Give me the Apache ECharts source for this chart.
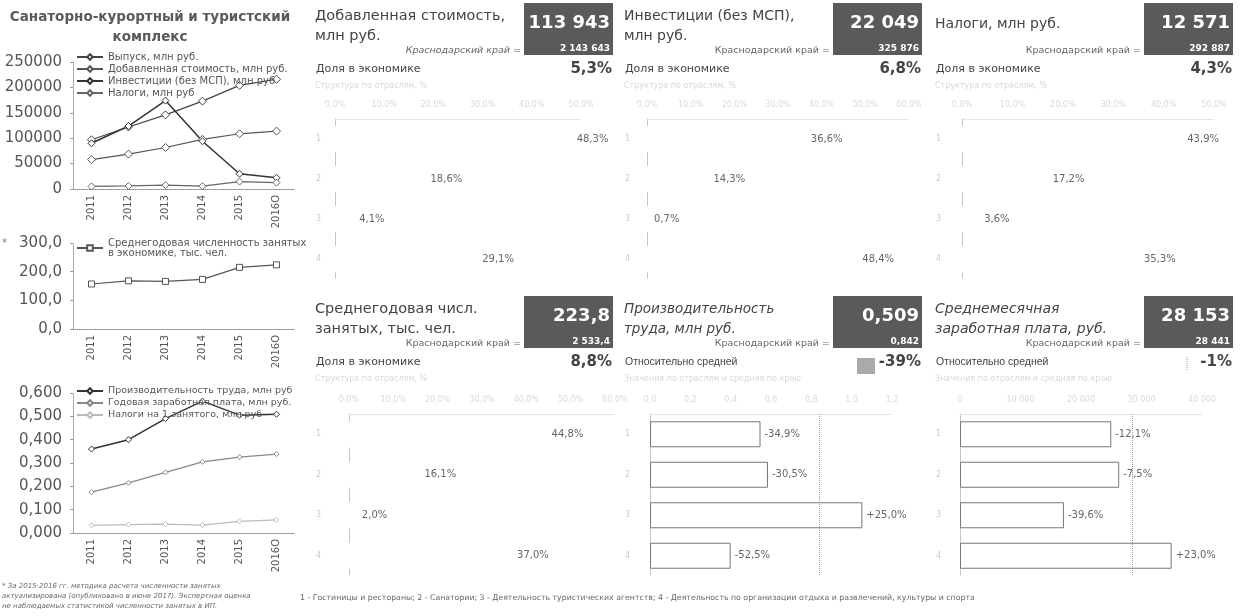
<!DOCTYPE html>
<html><head><meta charset="utf-8">
<script src="https://cdn.jsdelivr.net/npm/echarts@6/dist/echarts.min.js"></script>
<style>html,body{margin:0;padding:0;background:#fff}#c{width:1245px;height:616px}</style>
</head><body><div id="c"></div>
<script>
// ---------- data ----------
const years = ['2011','2012','2013','2014','2015','2016О'];
const outputVals = [97000, 122000, 146000, 173000, 204000, 216000];
const valueAdded = [57800, 68800, 81700, 97700, 108700, 113943];
const investment = [90000, 124000, 174000, 94000, 30000, 22049];
const taxes = [5000, 6000, 7500, 5500, 14500, 12571];
const employed = [157, 168, 166, 173, 215, 223.8];
const productivity = [0.36, 0.40, 0.49, 0.565, 0.505, 0.509];
const wageYear = [0.175, 0.215, 0.26, 0.305, 0.325, 0.338];
const taxPerEmp = [0.033, 0.036, 0.038, 0.034, 0.05, 0.056];

const industries = ['1','2','3','4'];
const vaShare = [48.3, 18.6, 4.1, 29.1];
const invShare = [36.6, 14.3, 0.7, 48.4];
const taxShare = [43.9, 17.2, 3.6, 35.3];
const empShare = [44.8, 16.1, 2.0, 37.0];
const prodValues = [0.548, 0.585, 1.053, 0.400];
const prodLabels = ['-34,9%', '-30,5%', '+25,0%', '-52,5%'];
const prodAvg = 0.842;
const wageValues = [25000, 26308, 17178, 34982];
const wageLabels = ['-12,1%', '-7,5%', '-39,6%', '+23,0%'];
const wageAvg = 28441;

const cardTitles = [['Добавленная стоимость,','млн руб.'], ['Инвестиции (без МСП),','млн руб.'], ['Налоги, млн руб.'],
  ['Среднегодовая числ.','занятых, тыс. чел.'], ['Производительность','труда, млн руб.'], ['Среднемесячная','заработная плата, руб.']];
const cardBig = ['113 943', '22 049', '12 571', '223,8', '0,509', '28 153'];
const cardSmall = ['2 143 643', '325 876', '292 887', '2 533,4', '0,842', '28 441'];
const cardSub = ['Доля в экономике', 'Доля в экономике', 'Доля в экономике', 'Доля в экономике', 'Относительно средней', 'Относительно средней'];
const cardPct = ['5,3%', '6,8%', '4,3%', '8,8%', '-39%', '-1%'];
const faintSubs = ['Структура по отраслям, %','Структура по отраслям, %','Структура по отраслям, %',
  'Структура по отраслям, %','Значения по отраслям и средняя по краю','Значения по отраслям и средняя по краю'];
const regionLabel = 'Краснодарский край =';
const footnote = ['* За 2015-2016 гг. методика расчета численности занятых',
  'актуализирована (опубликовано в июне 2017). Экспертная оценка',
  'не наблюдаемых статистикой численности занятых в ИП.'];
const industryNote = '1 - Гостиницы и рестораны; 2 - Санатории; 3 - Деятельность туристических агентств; 4 - Деятельность по организации отдыха и развлечений, культуры и спорта';

// ---------- layout ----------
const cardLayout = [
  {x0:313, y0:0, tsize:14.5, italic:false, regItalic:true},
  {x0:622, y0:0, tsize:14, italic:false, regItalic:false},
  {x0:933, y0:0, tsize:14, italic:false, regItalic:false},
  {x0:313, y0:293, tsize:14.5, italic:false, regItalic:false},
  {x0:622, y0:293, tsize:13.5, italic:true, regItalic:false},
  {x0:933, y0:293, tsize:14, italic:true, regItalic:false}
];
const F = 'DejaVu Sans';
const grey = '#555';
const fmtComma = (v, d) => v.toFixed(d).replace('.', ',');

const grids = [
  {left:73, top:62, width:222, height:127},
  {left:73, top:243, width:222, height:86},
  {left:73, top:393, width:222, height:140}
];
const xAxes = [], yAxes = [], series = [];
const lineYFmt = [v => String(v), v => fmtComma(v,1), v => fmtComma(v,3)];
const lineMax = [250000, 300, 0.6], lineInt = [50000, 100, 0.1];
for (let i = 0; i < 3; i++) {
  xAxes.push({type:'category', gridIndex:i, data:years, boundaryGap:true,
    axisLine:{lineStyle:{color:'#888', type:'dotted'}}, axisTick:{show:false},
    axisLabel:{rotate:90, fontFamily:F, fontSize:10, color:grey, margin:6}});
  yAxes.push({type:'value', gridIndex:i, min:0, max:lineMax[i], interval:lineInt[i],
    axisLine:{show:true, lineStyle:{color:'#999', type:'dotted'}}, axisTick:{show:true, length:3, lineStyle:{color:'#999'}},
    splitLine:{show:false},
    axisLabel:{fontFamily:F, fontSize:15, color:grey, margin:11, formatter:lineYFmt[i]}});
}
function lineSeries(name, data, gi, color, width, sym, symSize) {
  return {type:'line', name, data, xAxisIndex:gi, yAxisIndex:gi, symbol:sym, symbolSize:symSize,
    lineStyle:{color, width}, itemStyle:{color:'#fff', borderColor:color, borderWidth:1}, z:3, animation:false};
}
series.push(lineSeries('Выпуск, млн руб.', outputVals, 0, '#444', 1.2, 'diamond', 8));
series.push(lineSeries('Добавленная стоимость, млн руб.', valueAdded, 0, '#555', 1.2, 'diamond', 8));
series.push(lineSeries('Инвестиции (без МСП), млн руб', investment, 0, '#333', 1.5, 'diamond', 7));
series.push(lineSeries('Налоги, млн руб', taxes, 0, '#666', 1.2, 'diamond', 7));
series.push(lineSeries('Среднегодовая численность занятых\nв экономике, тыс. чел.', employed, 1, '#555', 1.2, 'rect', 6));
series.push(lineSeries('Производительность труда, млн руб', productivity, 2, '#333', 1.5, 'diamond', 6));
series.push(lineSeries('Годовая заработная плата, млн руб.', wageYear, 2, '#888', 1.2, 'diamond', 5));
series.push(lineSeries('Налоги на 1 занятого, млн руб', taxPerEmp, 2, '#bbb', 1.2, 'diamond', 5));

const legendBase = {orient:'vertical', itemGap:2, itemWidth:26, itemHeight:7, padding:0,
  textStyle:{fontFamily:F, fontSize:10, color:grey, lineHeight:10}, selectedMode:false};
const legends = [
  Object.assign({}, legendBase, {left:76, top:52, data:['Выпуск, млн руб.','Добавленная стоимость, млн руб.','Инвестиции (без МСП), млн руб','Налоги, млн руб']}),
  Object.assign({}, legendBase, {left:76, top:238, data:['Среднегодовая численность занятых\nв экономике, тыс. чел.']}),
  Object.assign({}, legendBase, {left:76, top:386, textStyle:{fontFamily:F, fontSize:9.5, color:grey, lineHeight:10},
    data:['Производительность труда, млн руб','Годовая заработная плата, млн руб.','Налоги на 1 занятого, млн руб']})
];

// bar panels
const barPanels = [
  {vals:vaShare, max:50, interval:10, kind:'share', dx:22, w:246},
  {vals:invShare, max:60, interval:10, kind:'share', dx:25, w:262},
  {vals:taxShare, max:50, interval:10, kind:'share', dx:29, w:252},
  {vals:empShare, max:60, interval:10, kind:'share', dx:36, w:266},
  {vals:prodValues, labels:prodLabels, avg:prodAvg, max:1.2, interval:0.2, kind:'rel', dec:1, dx:28, w:242},
  {vals:wageValues, labels:wageLabels, avg:wageAvg, max:40000, interval:10000, kind:'rel', dec:0, dx:27, w:242}
];
barPanels.forEach((p, k) => {
  const c = cardLayout[k];
  const top = c.y0 === 0 ? 119 : 414;
  const gi = grids.length;
  grids.push({left:c.x0 + p.dx, top, width:p.w, height:c.y0 === 0 ? 160 : 162});
  xAxes.push({type:'value', gridIndex:gi, position:'top', min:0, max:p.max, interval:p.interval,
    axisLine:{show:true, lineStyle:{color:'#ddd', type:'dotted'}}, axisTick:{show:false}, splitLine:{show:false},
    axisLabel:{fontFamily:F, fontSize:8, color:'#dadada', margin:10,
      formatter: v => p.kind === 'share' ? fmtComma(v,1) + '%' : (p.dec ? fmtComma(v,1) : String(v).replace(/\B(?=(\d{3})+(?!\d))/g,' '))}});
  yAxes.push({type:'category', gridIndex:gi, data:industries, inverse:true,
    axisLine:{show:true, lineStyle:{color:'#bbb', type:'dotted'}}, axisTick:{show:false},
    axisLabel:{fontFamily:F, fontSize:8, color:'#ccc', margin:p.dx - 8}});
  const s = {type:'bar', xAxisIndex:gi, yAxisIndex:gi, data:p.vals, barWidth:26, animation:false,
    label:{show:true, position:'right', distance:4, fontFamily:F, fontSize:10, color:'#666',
      formatter: p.kind === 'share' ? (d => fmtComma(d.value,1) + '%') : (d => p.labels[d.dataIndex])}};
  if (p.kind === 'share') {
    s.itemStyle = {color:'#fff'};
  } else {
    s.itemStyle = {color:'#fff', borderColor:'#777', borderWidth:1};
    s.markLine = {symbol:'none', silent:true, label:{show:false},
      lineStyle:{color:'#999', type:'dotted', width:1}, data:[{xAxis:p.avg}]};
  }
  series.push(s);
});

// graphics
const g = [];
function txt(x, y, text, font, fill, align, vAlign) {
  g.push({type:'text', x, y, silent:true, style:{text, font, fill:fill || grey, textAlign:align || 'left', textVerticalAlign:vAlign || 'middle'}});
}
txt(150, 17, 'Санаторно-курортный и туристский', 'bold 13.5px "DejaVu Sans"', '#5a5a5a', 'center');
txt(150, 37, 'комплекс', 'bold 13.5px "DejaVu Sans"', '#5a5a5a', 'center');
txt(2, 243, '*', '10px "DejaVu Sans"', '#777');
footnote.forEach((t, i) => txt(2, 586 + i * 10, t, 'italic 7px "DejaVu Sans"', '#666'));
txt(300, 598, industryNote, '7.8px "DejaVu Sans"', '#666');

cardLayout.forEach((c, k) => {
  const y = c.y0;
  const tf = (c.italic ? 'italic ' : '') + c.tsize + 'px "DejaVu Sans"';
  const tt = cardTitles[k];
  if (tt.length === 1) txt(c.x0 + 2, y + 24, tt[0], tf, '#444');
  else { txt(c.x0 + 2, y + 16, tt[0], tf, '#444'); txt(c.x0 + 2, y + 36, tt[1], tf, '#444'); }
  const bx = c.x0 + 211;
  g.push({type:'rect', silent:true, shape:{x:bx, y:y + 3, width:89, height:52}, style:{fill:'#5a5a5a'}});
  txt(bx + 86, y + 23, cardBig[k], 'bold 18px "DejaVu Sans"', '#fff', 'right');
  txt(bx + 86, y + 49, cardSmall[k], 'bold 9px "DejaVu Sans"', '#fff', 'right');
  txt(bx - 3, y + 51, regionLabel, (c.regItalic ? 'italic ' : '') + '9.5px "DejaVu Sans"', '#666', 'right');
  const subFont = cardSub[k] === 'Доля в экономике' ? '11px "DejaVu Sans"' : '10.5px "Liberation Sans"';
  txt(c.x0 + 3, y + 69, cardSub[k], subFont, '#444');
  txt(c.x0 + 299, y + 69, cardPct[k], 'bold 15px "DejaVu Sans"', '#444', 'right');
  txt(c.x0 + 2, y + 86, faintSubs[k], '8px "DejaVu Sans"', '#d8d8d8');
});
g.push({type:'rect', silent:true, shape:{x:857, y:358, width:18, height:16}, style:{fill:'#aaa'}});
g.push({type:'line', silent:true, shape:{x1:1187, y1:357, x2:1187, y2:371}, style:{stroke:'#999', lineDash:[1,1]}});

const chart = echarts.init(document.getElementById('c'), null, {renderer:'canvas'});
chart.setOption({animation:false, backgroundColor:'#fff', grid:grids, xAxis:xAxes, yAxis:yAxes,
  legend:legends, series, graphic:g});
</script></body></html>
